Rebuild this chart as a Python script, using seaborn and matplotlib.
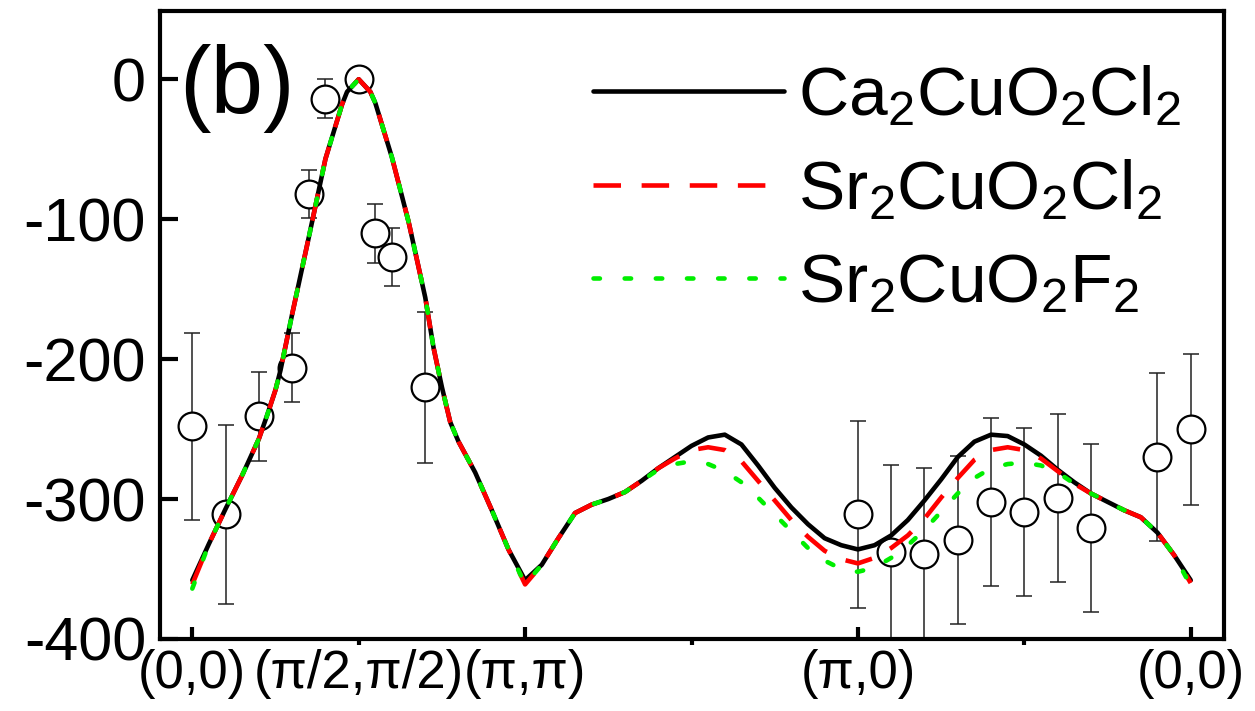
import seaborn as sns
import matplotlib.pyplot as plt
from matplotlib.ticker import FixedLocator, FixedFormatter

# path position along (0,0)-(pi/2,pi/2)-(pi,pi)-(pi,0)-(0,0), one unit per tick
x_path = [0.0, 0.1, 0.2, 0.3, 0.4, 0.45, 0.5, 0.53, 0.6, 0.7, 0.8, 0.9, 0.93, 1.0, 1.07, 1.1,
          1.2, 1.3, 1.4, 1.45, 1.5, 1.55, 1.6, 1.7, 1.8, 1.9, 2.0,
          2.1, 2.2, 2.3, 2.4, 2.5, 2.6, 2.7, 2.8, 2.9, 3.0,
          3.1, 3.2, 3.3, 3.4, 3.5, 3.6, 3.7, 3.8, 3.9, 4.0,
          4.1, 4.2, 4.3, 4.4, 4.5, 4.6, 4.7, 4.8, 4.9, 5.0,
          5.1, 5.2, 5.3, 5.4, 5.5, 5.6, 5.7, 5.8, 5.9, 6.0]

ca2cuo2cl2 = [-358, -332, -307, -283, -257, -240, -222, -208, -168, -113, -57, -18, -9, 0, -9, -17,
              -56, -102, -156, -192, -220, -245, -259, -281, -308, -336, -358,
              -347, -328, -310, -304, -300, -295, -287, -278, -270, -262,
              -256, -254, -261, -276, -292, -306, -318, -328, -333, -336,
              -333, -326, -315, -301, -286, -270, -259, -254, -255, -261,
              -269, -279, -288, -296, -302, -308, -313, -324, -340, -358]

sr2cuo2cl2 = [-361, -332, -307, -283, -257, -240, -222, -208, -168, -113, -57, -18, -9, 0, -9, -17,
              -56, -102, -156, -192, -220, -245, -259, -281, -308, -336, -361,
              -347, -328, -310, -304, -300, -295, -287, -278, -271, -265,
              -263, -265, -273, -287, -301, -315, -327, -337, -343, -346,
              -342, -335, -326, -314, -299, -285, -272, -265, -263, -265,
              -271, -280, -289, -296, -302, -308, -313, -324, -340, -360]

sr2cuo2f2 = [-364, -332, -307, -283, -257, -240, -222, -208, -168, -113, -57, -18, -9, 0, -9, -17,
             -56, -102, -156, -192, -220, -245, -259, -281, -308, -336, -361,
             -347, -328, -310, -304, -300, -295, -287, -279, -275, -273,
             -275, -280, -288, -299, -311, -323, -335, -344, -350, -352,
             -349, -342, -333, -322, -309, -296, -285, -278, -275, -274,
             -276, -281, -289, -296, -302, -308, -313, -324, -340, -362]

# ARPES points with error bars
k_exp = [0.0, 0.2, 0.4, 0.6, 0.7, 0.8, 1.0, 1.1, 1.2, 1.4,
         4.0, 4.2, 4.4, 4.6, 4.8, 5.0, 5.2, 5.4, 5.8, 6.0]
e_exp = [-248, -311, -241, -206, -82, -14, 0, -110, -127, -220,
         -311, -338, -339, -329, -302, -309, -299, -321, -270, -250]
err_exp = [67, 64, 32, 25, 17, 14, 0, 21, 21, 54,
           67, 62, 61, 60, 60, 60, 60, 60, 60, 54]

major_pos = [0, 2, 4, 6]
major_labels = ['(0,0)', '(π,π)', '(π,0)', '(0,0)']
minor_pos = [1, 3, 5]
minor_labels = ['(π/2,π/2)', '', '']

sns.set_style("ticks")
plt.rcParams['font.family'] = ['Liberation Sans', 'DejaVu Sans']
plt.rcParams['mathtext.fontset'] = 'custom'
plt.rcParams['mathtext.rm'] = 'Liberation Sans'
plt.rcParams['mathtext.it'] = 'Liberation Sans:italic'
plt.rcParams['axes.unicode_minus'] = False
plt.rcParams['text.color'] = 'black'
plt.rcParams['xtick.color'] = 'black'
plt.rcParams['ytick.color'] = 'black'
plt.rcParams['xtick.labelcolor'] = 'black'
plt.rcParams['ytick.labelcolor'] = 'black'

fig = plt.figure(figsize=(12.55, 7.11), dpi=100)
ax = fig.add_axes([0.1275, 0.1013, 0.8478, 0.8837])

ax.errorbar(k_exp, e_exp, yerr=err_exp, fmt='none', ecolor='#222222',
            elinewidth=1.1, capsize=6, capthick=1.1, zorder=2)
sns.scatterplot(x=k_exp, y=e_exp, ax=ax, marker='o', s=400, facecolor='white',
                edgecolor='black', linewidth=1.6, zorder=3, legend=False)

sns.lineplot(x=x_path, y=ca2cuo2cl2, ax=ax, color='black', lw=3.3, sort=False,
             estimator=None, label=r'$\mathregular{Ca_2CuO_2Cl_2}$', zorder=4)
sns.lineplot(x=x_path, y=sr2cuo2cl2, ax=ax, color='#ff0000', lw=3.3, sort=False,
             estimator=None, label=r'$\mathregular{Sr_2CuO_2Cl_2}$', zorder=5,
             dashes=(6, 4.5))
sns.lineplot(x=x_path, y=sr2cuo2f2, ax=ax, color='#00ee00', lw=3.3, sort=False,
             estimator=None, label=r'$\mathregular{Sr_2CuO_2F_2}$', zorder=6,
             dashes=(1.4, 5.4), dash_capstyle='round')

ax.set_xlim(-0.194, 6.2)
ax.set_ylim(-400, 49)
ax.set_yticks([0, -100, -200, -300, -400])
ax.xaxis.set_major_locator(FixedLocator(major_pos))
ax.xaxis.set_major_formatter(FixedFormatter(major_labels))
ax.xaxis.set_minor_locator(FixedLocator(minor_pos))
ax.xaxis.set_minor_formatter(FixedFormatter(minor_labels))

for side in ['left', 'right', 'top', 'bottom']:
    ax.spines[side].set_linewidth(3)
    ax.spines[side].set_color('black')

ax.tick_params(axis='y', direction='in', length=13, width=3, labelsize=44, pad=10)
ax.tick_params(axis='x', which='major', direction='in', length=9, width=3,
               labelsize=38, pad=7)
ax.tick_params(axis='x', which='minor', direction='out', length=4, width=3,
               labelsize=38, pad=3)

ax.text(0.018, 0.876, '(b)', transform=ax.transAxes, fontsize=68,
        ha='left', va='center')

leg = ax.legend(loc='upper left', bbox_to_anchor=(0.407, 0.915), frameon=False,
                fontsize=50, handlelength=2.75, handletextpad=0.2,
                labelspacing=0.42, borderpad=0, borderaxespad=0)

fig.savefig('out.png', dpi=100)
